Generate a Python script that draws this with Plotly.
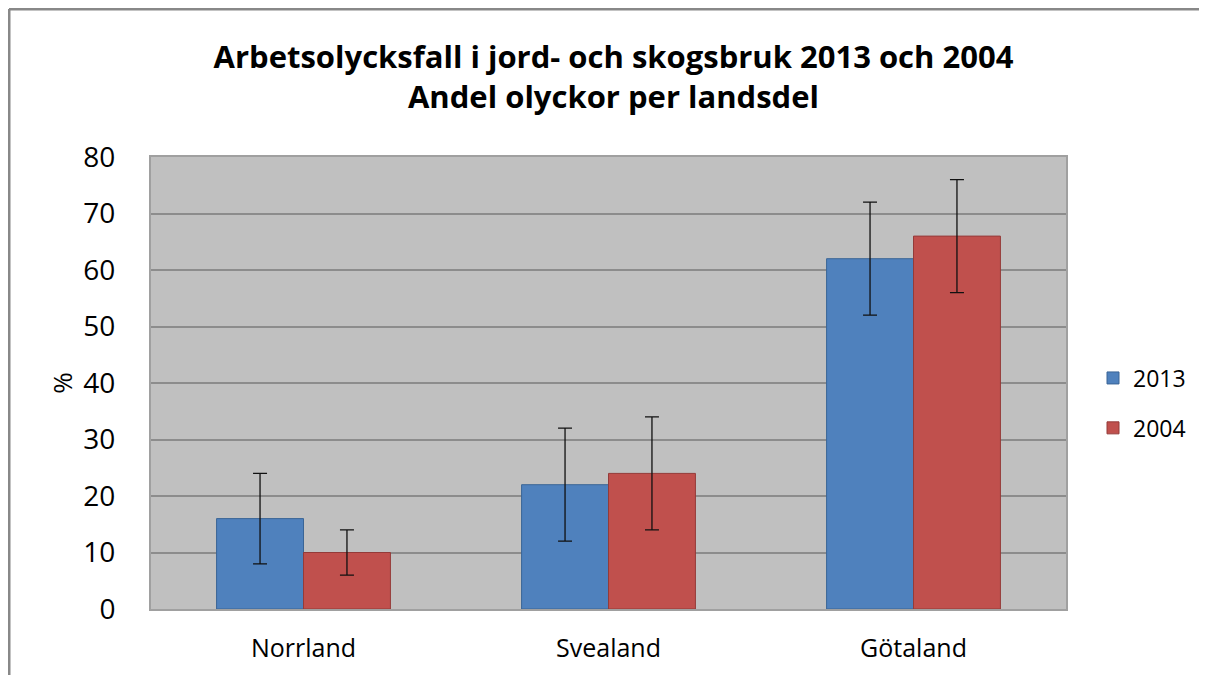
import plotly.graph_objects as go

categories = ["Norrland", "Svealand", "Götaland"]
series_names = ["2013", "2004"]
values_2013 = [16, 22, 62]
values_2004 = [10, 24, 66]
err_2013 = [8, 10, 10]
err_2004 = [4, 10, 10]
y_ticks = [0, 10, 20, 30, 40, 50, 60, 70, 80]

FONT = "Open Sans"
W, H = 1207, 675
L, T = 143, 149
R, B = W - 1058, H - 601
PW, PH = W - L - R, H - T - B

fig = go.Figure()
fig.add_trace(go.Bar(
    name=series_names[0], x=categories, y=values_2013, legendgroup="a",
    marker=dict(color="#4F81BD", line=dict(color="#3A6596", width=1)),
    error_y=dict(type="data", array=err_2013, visible=True, color="#111111", thickness=1.3, width=7),
))
fig.add_trace(go.Bar(
    name=series_names[1], x=categories, y=values_2004, legendgroup="b",
    marker=dict(color="#C0504D", line=dict(color="#943B39", width=1)),
    error_y=dict(type="data", array=err_2004, visible=True, color="#111111", thickness=1.3, width=7),
))

fig.update_layout(
    width=W, height=H,
    paper_bgcolor="#FFFFFF", plot_bgcolor="#C0C0C0",
    margin=dict(l=L, r=R, t=T, b=B, autoexpand=False),
    barmode="group", bargap=0.43, bargroupgap=0,
    title=dict(
        text="<b>Arbetsolycksfall i jord- och skogsbruk 2013 och 2004<br>Andel olyckor per landsdel</b>",
        x=605.5 / W, xanchor="center", xref="container",
        y=1 - 60 / H, yanchor="top", yref="container",
        font=dict(family=FONT, size=31, color="#000000"),
    ),
    font=dict(family=FONT, color="#000000"),
    legend=dict(
        xref="container", yref="container",
        x=1085 / W, xanchor="left", y=1 - 395 / H, yanchor="middle",
        font=dict(family=FONT, size=23, color="#000000"),
        tracegroupgap=17,
        bgcolor="rgba(0,0,0,0)",
    ),
    xaxis=dict(
        automargin=False,
        showgrid=False, showline=True, linecolor="#A0A0A0", linewidth=2, mirror=True,
        tickfont=dict(family=FONT, size=25, color="#000000"),
        ticks="", ticklabelstandoff=16,
    ),
    yaxis=dict(
        automargin=False,
        range=[0, 80], tickvals=y_ticks, showgrid=True, gridcolor="#8C8C8C", gridwidth=2,
        showline=True, linecolor="#A0A0A0", linewidth=2, mirror=True,
        tickfont=dict(family=FONT, size=28, color="#000000"),
        ticks="", ticklabelstandoff=28,
        title=dict(text="%", font=dict(family=FONT, size=26, color="#000000"), standoff=3),
        zeroline=False,
    ),
    shapes=[
        dict(type="line", xref="paper", yref="paper",
             x0=(1 - L) / PW, x1=(1 - L) / PW, y0=-(B + 20) / PH, y1=(PH + T - 1) / PH,
             line=dict(color="#888888", width=3), layer="below"),
        dict(type="line", xref="paper", yref="paper",
             x0=(1 - L) / PW, x1=(1196 - L) / PW, y0=(PH + T - 1) / PH, y1=(PH + T - 1) / PH,
             line=dict(color="#888888", width=3), layer="below"),
    ],
)

fig.write_html("out.html")
